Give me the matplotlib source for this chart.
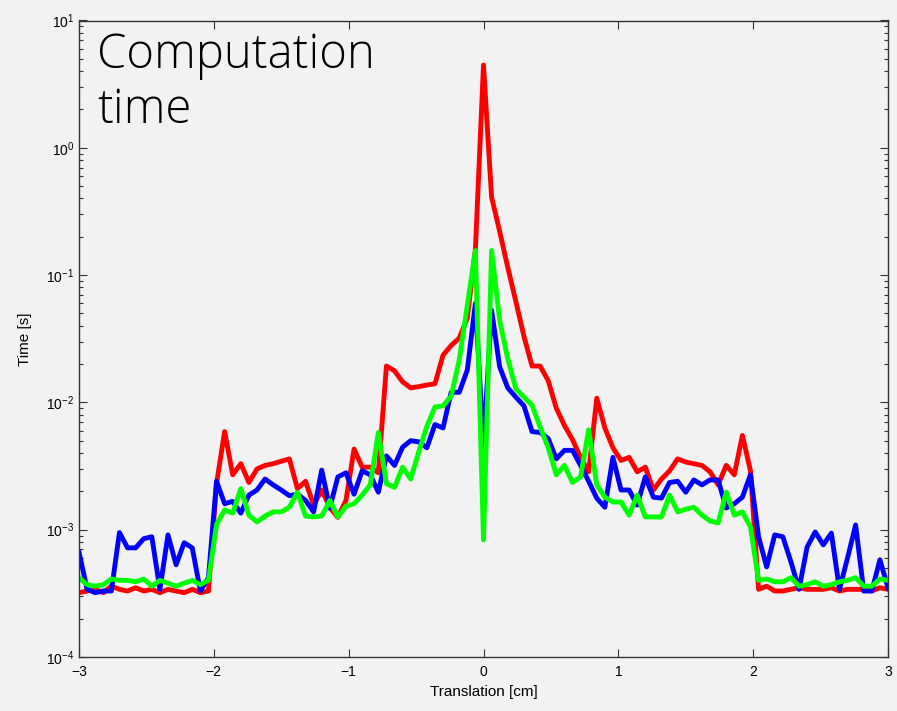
import numpy as np
import matplotlib
matplotlib.use("Agg")
import matplotlib.pyplot as plt
from matplotlib.ticker import LogLocator, FixedLocator, NullLocator

# translation grid [cm], 101 samples from -3 to 3
translation = np.round(np.linspace(-3, 3, 101), 2)

# computation time [s] for the three methods
time_red = [
    3.2e-4, 3.3e-4, 3.4e-4, 3.2e-4, 3.6e-4, 3.4e-4, 3.3e-4, 3.5e-4, 3.3e-4, 3.4e-4,
    3.2e-4, 3.4e-4, 3.3e-4, 3.2e-4, 3.4e-4, 3.2e-4, 3.3e-4,
    2.3e-3, 5.9e-3, 2.7e-3, 3.3e-3, 2.35e-3, 3.0e-3, 3.2e-3, 3.3e-3, 3.45e-3, 3.6e-3,
    2.1e-3, 2.4e-3, 1.56e-3, 2.05e-3, 1.5e-3, 1.25e-3, 1.7e-3,
    4.3e-3, 3.1e-3, 3.1e-3, 2.8e-3, 1.93e-2, 1.77e-2, 1.45e-2, 1.3e-2, 1.33e-2, 1.37e-2,
    1.4e-2, 2.35e-2, 2.8e-2, 3.2e-2, 4.6e-2, 0.16, 4.47,
    0.41, 0.22, 0.115, 6.2e-2, 3.3e-2, 1.93e-2, 1.93e-2, 1.48e-2, 9.0e-3, 6.6e-3,
    5.1e-3, 3.7e-3, 2.85e-3, 1.08e-2, 6.3e-3, 4.4e-3, 3.5e-3,
    3.7e-3, 2.85e-3, 3.1e-3, 2.05e-3, 2.5e-3, 2.9e-3, 3.6e-3, 3.4e-3, 3.3e-3, 3.2e-3,
    2.85e-3, 2.25e-3, 3.2e-3, 2.7e-3, 5.5e-3, 2.9e-3, 3.4e-4,
    3.6e-4, 3.3e-4, 3.3e-4, 3.4e-4, 3.5e-4, 3.4e-4, 3.4e-4, 3.4e-4, 3.5e-4, 3.3e-4,
    3.4e-4, 3.4e-4, 3.4e-4, 3.3e-4, 3.5e-4, 3.4e-4,
]
time_blue = [
    6.7e-4, 3.4e-4, 3.2e-4, 3.3e-4, 3.3e-4, 9.5e-4, 7.2e-4, 7.2e-4, 8.5e-4, 8.8e-4,
    3.4e-4, 9.1e-4, 5.3e-4, 7.9e-4, 7.2e-4, 3.3e-4, 4.2e-4,
    2.4e-3, 1.6e-3, 1.67e-3, 1.35e-3, 1.87e-3, 2.05e-3, 2.5e-3, 2.25e-3, 2.05e-3, 1.85e-3,
    1.9e-3, 1.7e-3, 1.38e-3, 2.94e-3, 1.48e-3, 2.6e-3, 2.8e-3,
    1.9e-3, 2.9e-3, 2.7e-3, 1.97e-3, 3.8e-3, 3.2e-3, 4.45e-3, 5.0e-3, 4.9e-3, 4.4e-3,
    6.7e-3, 6.3e-3, 1.2e-2, 1.2e-2, 1.8e-2, 6.0e-2, 4.6e-3,
    5.3e-2, 1.9e-2, 1.3e-2, 1.1e-2, 9.4e-3, 5.9e-3, 5.8e-3, 5.2e-3, 3.6e-3, 4.2e-3,
    4.2e-3, 3.2e-3, 2.4e-3, 1.77e-3, 1.5e-3, 3.7e-3, 2.05e-3,
    2.05e-3, 1.56e-3, 2.6e-3, 1.8e-3, 1.77e-3, 2.35e-3, 2.4e-3, 1.97e-3, 2.46e-3, 2.25e-3,
    2.46e-3, 2.46e-3, 1.48e-3, 1.6e-3, 1.8e-3, 2.7e-3, 8.8e-4,
    5.1e-4, 9.1e-4, 8.8e-4, 5.6e-4, 3.4e-4, 7.3e-4, 9.6e-4, 7.6e-4, 9.4e-4, 3.4e-4,
    6.0e-4, 1.09e-3, 3.3e-4, 3.3e-4, 5.8e-4, 3.5e-4,
]
time_green = [
    4.2e-4, 3.7e-4, 3.6e-4, 3.7e-4, 4.1e-4, 4.0e-4, 4.0e-4, 3.9e-4, 4.1e-4, 3.6e-4,
    4.0e-4, 3.8e-4, 3.6e-4, 3.8e-4, 4.0e-4, 3.7e-4, 4.0e-4,
    1.1e-3, 1.43e-3, 1.35e-3, 2.1e-3, 1.3e-3, 1.15e-3, 1.28e-3, 1.38e-3, 1.38e-3, 1.5e-3,
    1.97e-3, 1.28e-3, 1.26e-3, 1.28e-3, 1.7e-3, 1.26e-3, 1.53e-3,
    1.6e-3, 1.87e-3, 2.25e-3, 5.8e-3, 2.3e-3, 2.15e-3, 3.1e-3, 2.5e-3, 4.1e-3, 6.5e-3,
    9.2e-3, 9.4e-3, 1.12e-2, 2.15e-2, 5.8e-2, 0.156, 8.3e-4,
    0.156, 4.4e-2, 2.2e-2, 1.28e-2, 1.1e-2, 9.5e-3, 6.4e-3, 4.4e-3, 2.7e-3, 3.2e-3,
    2.35e-3, 2.6e-3, 6.1e-3, 2.25e-3, 1.8e-3, 1.65e-3, 1.65e-3,
    1.3e-3, 1.87e-3, 1.26e-3, 1.26e-3, 1.26e-3, 1.87e-3, 1.38e-3, 1.45e-3, 1.5e-3, 1.3e-3,
    1.17e-3, 1.13e-3, 1.97e-3, 1.3e-3, 1.38e-3, 1.05e-3, 4.0e-4,
    4.1e-4, 3.9e-4, 3.9e-4, 4.2e-4, 3.6e-4, 3.7e-4, 3.9e-4, 3.6e-4, 3.7e-4, 3.9e-4,
    4.0e-4, 4.2e-4, 3.6e-4, 3.6e-4, 4.1e-4, 4.0e-4,
]

x_ticks = [-3, -2, -1, 0, 1, 2, 3]

bg = '#f2f2f2'
plt.rcParams['font.family'] = ['Liberation Sans', 'DejaVu Sans']

fig = plt.figure(figsize=(8.97, 7.11), dpi=100, facecolor=bg)
ax = fig.add_axes([79 / 897, 54 / 711, 809 / 897, 636.5 / 711])
ax.set_facecolor(bg)

lw = 3.5
ax.plot(translation, time_red, color='#ff0000', lw=lw, solid_joinstyle='round')
ax.plot(translation, time_blue, color='#0000ff', lw=lw, solid_joinstyle='round')
ax.plot(translation, time_green, color='#00ff00', lw=lw, solid_joinstyle='round')

ax.set_yscale('log')
ax.set_xlim(-3, 3)
ax.set_ylim(1e-4, 1e1)
ax.xaxis.set_major_locator(FixedLocator(x_ticks))
ax.xaxis.set_minor_locator(NullLocator())
ax.yaxis.set_major_locator(LogLocator(base=10, numticks=10))
ax.yaxis.set_minor_locator(LogLocator(base=10, subs=np.arange(2, 10), numticks=20))

ax.tick_params(which='both', direction='in', top=True, right=True,
               colors='#333333', labelcolor='black', labelsize=10)
ax.tick_params(axis='x', which='major', pad=6)
ax.tick_params(which='major', length=6, width=0.8)
ax.tick_params(which='minor', length=3, width=0.8)
for s in ax.spines.values():
    s.set_color('#333333')
    s.set_linewidth(1.0)

ax.set_xlabel('Translation [cm]', fontsize=11, labelpad=4)
ax.set_ylabel('Time [s]', fontsize=11, labelpad=10)

fig.text(97 / 897, 1 - 31 / 711, 'Computation\ntime', family=['Open Sans', 'DejaVu Sans'],
         fontweight='light', fontsize=34, va='top', ha='left', linespacing=1.2)

fig.savefig('out.png', dpi=100, facecolor=bg)
